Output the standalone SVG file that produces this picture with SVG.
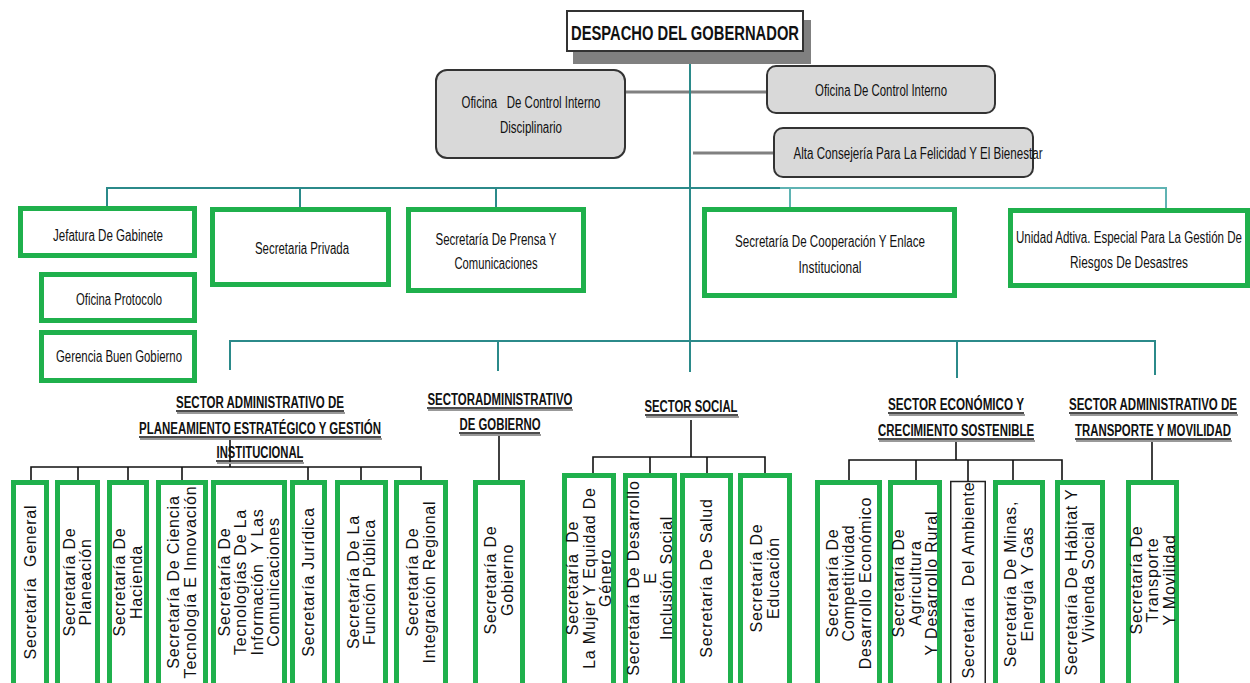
<svg xmlns="http://www.w3.org/2000/svg" width="1250" height="683" viewBox="0 0 1250 683">
<style>
.g{fill:#fff;stroke:#1fb04c;stroke-width:5}
.gr{fill:#d9d9d9;stroke:#333;stroke-width:2}
.t{font-family:"Liberation Sans",Arial,sans-serif;font-size:16px;fill:#111;text-anchor:middle}
.v{font-size:16px;letter-spacing:0.8px}
.h{font-weight:bold;font-size:16px}
.teal{stroke:#2b8a8a;stroke-width:2;fill:none}
.teal2{stroke:#5fb3b3;stroke-width:2;fill:none}
.blk{stroke:#111;stroke-width:1.6;fill:none}
.gry{stroke:#808080;stroke-width:3;fill:none}
.ul{stroke:#111;stroke-width:1.3}
.uls{stroke:#999;stroke-width:2}
</style>
<rect width="1250" height="683" fill="#fff"/>
<g id="connectors">
<line class="gry" x1="625" y1="92" x2="767" y2="92"/>
<line class="gry" x1="693" y1="153" x2="774" y2="153"/>
<path class="teal" d="M107 206V188H780M300 188V207M496 188V207M690 51V372M230 370V341H1155V375M498 341V371M957 341V378"/>
<path class="teal2" d="M780 188H1166V208M790 188V207"/>
<path class="blk" d="M230 438V467M31 480V467H421V480M78 467V480M128 467V480M182 467V480M308 467V480M361 467V480"/>
<path class="blk" d="M499 436V480"/>
<path class="blk" d="M691 420V457M593 473V457H765V473M650 457V473M707 457V473"/>
<path class="blk" d="M956 440V460M849 480V460H1062V484M916 460V480M968 460V481M1013 460V480"/>
<path class="blk" d="M1152 440V480"/>
</g>
<g id="despacho">
<rect x="573" y="20" width="238" height="44" fill="#808080"/>
<rect x="567" y="11" width="236" height="40" fill="#fff" stroke="#333" stroke-width="2"/>
<text class="t" x="685" y="40" style="font-weight:bold;font-size:21px" textLength="228" lengthAdjust="spacingAndGlyphs">DESPACHO DEL GOBERNADOR</text>
</g>
<g id="control-disciplinario">
<rect class="gr" x="436" y="70" width="189" height="88" rx="11"/>
<text class="t" x="531" y="108" textLength="139" lengthAdjust="spacingAndGlyphs" xml:space="preserve">Oficina   De Control Interno</text>
<text class="t" x="531" y="133" textLength="62" lengthAdjust="spacingAndGlyphs">Disciplinario</text>
</g>
<g id="control-interno">
<rect class="gr" x="767" y="66" width="228" height="47" rx="9"/>
<text class="t" x="881" y="96" textLength="132" lengthAdjust="spacingAndGlyphs">Oficina De Control Interno</text>
</g>
<g id="alta-consejeria">
<rect class="gr" x="774" y="128" width="259" height="49" rx="9"/>
<text class="t" x="918" y="159" textLength="249" lengthAdjust="spacingAndGlyphs">Alta Consejería Para La Felicidad Y El Bienestar</text>
</g>
<g id="jefatura">
<rect class="g" x="20.5" y="208.5" width="174" height="47"/>
<text class="t" x="108" y="241" textLength="110" lengthAdjust="spacingAndGlyphs">Jefatura De Gabinete</text>
</g>
<g id="protocolo">
<rect class="g" x="41.5" y="274.5" width="153" height="46"/>
<text class="t" x="119" y="305" textLength="86" lengthAdjust="spacingAndGlyphs">Oficina Protocolo</text>
</g>
<g id="buen-gobierno">
<rect class="g" x="41.5" y="332.5" width="153" height="48"/>
<text class="t" x="119" y="362" textLength="126" lengthAdjust="spacingAndGlyphs">Gerencia Buen Gobierno</text>
</g>
<g id="privada">
<rect class="g" x="212.5" y="209.5" width="176" height="75"/>
<text class="t" x="302" y="254" textLength="94" lengthAdjust="spacingAndGlyphs">Secretaria Privada</text>
</g>
<g id="prensa">
<rect class="g" x="408.5" y="209.5" width="175" height="81"/>
<text class="t" x="496" y="245" textLength="121" lengthAdjust="spacingAndGlyphs">Secretaría De Prensa Y</text>
<text class="t" x="496" y="269" textLength="83" lengthAdjust="spacingAndGlyphs">Comunicaciones</text>
</g>
<g id="cooperacion">
<rect class="g" x="704.5" y="209.5" width="250" height="86"/>
<text class="t" x="830" y="247" textLength="190" lengthAdjust="spacingAndGlyphs">Secretaría De Cooperación Y Enlace</text>
<text class="t" x="830" y="273" textLength="63" lengthAdjust="spacingAndGlyphs">Institucional</text>
</g>
<g id="riesgos">
<rect class="g" x="1010.5" y="210.5" width="237" height="75"/>
<text class="t" x="1129" y="243" textLength="226" lengthAdjust="spacingAndGlyphs">Unidad Adtiva. Especial Para La Gestión De</text>
<text class="t" x="1129" y="268" textLength="118" lengthAdjust="spacingAndGlyphs">Riesgos De Desastres</text>
</g>
<g id="sector-planeamiento">
<line class="uls" x1="177" y1="413" x2="345" y2="413"/><line class="ul" x1="176" y1="411" x2="344" y2="411"/>
<line class="uls" x1="140" y1="439" x2="382" y2="439"/><line class="ul" x1="139" y1="437" x2="381" y2="437"/>
<line class="uls" x1="217" y1="463" x2="304" y2="463"/><line class="ul" x1="216" y1="461" x2="303" y2="461"/>
<text class="t h" x="260" y="408" textLength="168" lengthAdjust="spacingAndGlyphs">SECTOR ADMINISTRATIVO DE</text>
<text class="t h" x="260" y="434" textLength="242" lengthAdjust="spacingAndGlyphs">PLANEAMIENTO ESTRATÉGICO Y GESTIÓN</text>
<text class="t h" x="260" y="458" textLength="87" lengthAdjust="spacingAndGlyphs">INSTITUCIONAL</text>
</g>
<g id="sector-gobierno">
<line class="uls" x1="428" y1="410" x2="573" y2="410"/><line class="ul" x1="427" y1="408" x2="572" y2="408"/>
<line class="uls" x1="460" y1="435" x2="541" y2="435"/><line class="ul" x1="459" y1="433" x2="540" y2="433"/>
<text class="t h" x="500" y="405" textLength="145" lengthAdjust="spacingAndGlyphs">SECTORADMINISTRATIVO</text>
<text class="t h" x="500" y="430" textLength="81" lengthAdjust="spacingAndGlyphs">DE GOBIERNO</text>
</g>
<g id="sector-social">
<line class="uls" x1="646" y1="417" x2="739" y2="417"/><line class="ul" x1="645" y1="415" x2="738" y2="415"/>
<text class="t h" x="691" y="412" textLength="93" lengthAdjust="spacingAndGlyphs">SECTOR SOCIAL</text>
</g>
<g id="sector-economico">
<line class="uls" x1="889" y1="415" x2="1025" y2="415"/><line class="ul" x1="888" y1="413" x2="1024" y2="413"/>
<line class="uls" x1="879" y1="441" x2="1035" y2="441"/><line class="ul" x1="878" y1="439" x2="1034" y2="439"/>
<text class="t h" x="956" y="410" textLength="136" lengthAdjust="spacingAndGlyphs">SECTOR ECONÓMICO Y</text>
<text class="t h" x="956" y="436" textLength="156" lengthAdjust="spacingAndGlyphs">CRECIMIENTO SOSTENIBLE</text>
</g>
<g id="sector-transporte">
<line class="uls" x1="1070" y1="415" x2="1238" y2="415"/><line class="ul" x1="1069" y1="413" x2="1237" y2="413"/>
<line class="uls" x1="1076" y1="441" x2="1232" y2="441"/><line class="ul" x1="1075" y1="439" x2="1231" y2="439"/>
<text class="t h" x="1153" y="410" textLength="168" lengthAdjust="spacingAndGlyphs">SECTOR ADMINISTRATIVO DE</text>
<text class="t h" x="1153" y="436" textLength="156" lengthAdjust="spacingAndGlyphs">TRANSPORTE Y MOVILIDAD</text>
</g>
<g id="sec-general">
<rect class="g" x="13.5" y="482.5" width="33" height="210"/>
<g transform="translate(30,582) rotate(-90)"><text class="t v" x="0" y="5.5" xml:space="preserve">Secretaría  General</text></g>
</g>
<g id="sec-planeacion">
<rect class="g" x="57.5" y="482.5" width="40" height="210"/>
<g transform="translate(77.5,582) rotate(-90)"><text class="t v" x="0" y="-2.75">Secretaría De</text><text class="t v" x="0" y="13.75">Planeación</text></g>
</g>
<g id="sec-hacienda">
<rect class="g" x="109.5" y="482.5" width="37" height="210"/>
<g transform="translate(128,582) rotate(-90)"><text class="t v" x="0" y="-2.75">Secretaría De</text><text class="t v" x="0" y="13.75">Hacienda</text></g>
</g>
<g id="sec-ciencia">
<rect class="g" x="158.5" y="482.5" width="47" height="210"/>
<g transform="translate(182,582) rotate(-90)"><text class="t v" x="0" y="-2.75">Secretaría De Ciencia</text><text class="t v" x="0" y="13.75">Tecnología E Innovación</text></g>
</g>
<g id="sec-tic">
<rect class="g" x="213.5" y="482.5" width="71" height="210"/>
<g transform="translate(249,582) rotate(-90)"><text class="t v" x="0" y="-19.25">Secretaría De</text><text class="t v" x="0" y="-2.75">Tecnologías De La</text><text class="t v" x="0" y="13.75" xml:space="preserve">Información  Y Las</text><text class="t v" x="0" y="30.25">Comunicaciones</text></g>
</g>
<g id="sec-juridica">
<rect class="g" x="292.5" y="482.5" width="32" height="210"/>
<g transform="translate(308.5,582) rotate(-90)"><text class="t v" x="0" y="5.5">Secretaría Jurídica</text></g>
</g>
<g id="sec-funcion-publica">
<rect class="g" x="337.5" y="482.5" width="48" height="210"/>
<g transform="translate(361.5,582) rotate(-90)"><text class="t v" x="0" y="-2.75">Secretaría De La</text><text class="t v" x="0" y="13.75">Función Pública</text></g>
</g>
<g id="sec-integracion">
<rect class="g" x="396.5" y="482.5" width="49" height="210"/>
<g transform="translate(421,582) rotate(-90)"><text class="t v" x="0" y="-2.75">Secretaría De</text><text class="t v" x="0" y="13.75">Integración Regional</text></g>
</g>
<g id="sec-gobierno">
<rect class="g" x="475.5" y="482.5" width="47" height="210"/>
<g transform="translate(499,580) rotate(-90)"><text class="t v" x="0" y="-2.75">Secretaría De</text><text class="t v" x="0" y="13.75">Gobierno</text></g>
</g>
<g id="sec-mujer">
<rect class="g" x="564.5" y="475.5" width="49" height="217"/>
<g transform="translate(589,578) rotate(-90)"><text class="t v" x="0" y="-11" xml:space="preserve">Secretaría  De</text><text class="t v" x="0" y="5.5">La Mujer Y Equidad De</text><text class="t v" x="0" y="22">Género</text></g>
</g>
<g id="sec-inclusion">
<rect class="g" x="625.5" y="475.5" width="49" height="217"/>
<g transform="translate(650,578) rotate(-90)"><text class="t v" x="0" y="-11">Secretaría De Desarrollo</text><text class="t v" x="0" y="5.5">E</text><text class="t v" x="0" y="22">Inclusión Social</text></g>
</g>
<g id="sec-salud">
<rect class="g" x="682.5" y="475.5" width="48" height="217"/>
<g transform="translate(706.5,578) rotate(-90)"><text class="t v" x="0" y="5.5">Secretaría De Salud</text></g>
</g>
<g id="sec-educacion">
<rect class="g" x="740.5" y="475.5" width="49" height="217"/>
<g transform="translate(765,578) rotate(-90)"><text class="t v" x="0" y="-2.75">Secretaría De</text><text class="t v" x="0" y="13.75">Educación</text></g>
</g>
<g id="sec-competitividad">
<rect class="g" x="817.5" y="482.5" width="62" height="210"/>
<g transform="translate(848.5,583) rotate(-90)"><text class="t v" x="0" y="-11">Secretaría De</text><text class="t v" x="0" y="5.5">Competitividad</text><text class="t v" x="0" y="22">Desarrollo Económico</text></g>
</g>
<g id="sec-agricultura">
<rect class="g" x="890.5" y="482.5" width="49" height="210"/>
<g transform="translate(915,583) rotate(-90)"><text class="t v" x="0" y="-11">Secretaría De</text><text class="t v" x="0" y="5.5">Agricultura</text><text class="t v" x="0" y="22">Y Desarrollo Rural</text></g>
</g>
<g id="sec-ambiente">
<rect x="950.75" y="481.5" width="34.5" height="210" fill="#fff" stroke="#222" stroke-width="1.5"/>
<g transform="translate(968,580) rotate(-90)"><text class="t v" x="0" y="5.5" xml:space="preserve">Secretaría  Del Ambiente</text></g>
</g>
<g id="sec-minas">
<rect class="g" x="995.5" y="482.5" width="47" height="210"/>
<g transform="translate(1019,584) rotate(-90)"><text class="t v" x="0" y="-2.75">Secretaría De Minas,</text><text class="t v" x="0" y="13.75">Energía Y Gas</text></g>
</g>
<g id="sec-habitat">
<rect class="g" x="1057.5" y="482.5" width="45" height="210"/>
<g transform="translate(1080,582) rotate(-90)"><text class="t v" x="0" y="-2.75">Secretaría De Hábitat Y</text><text class="t v" x="0" y="13.75">Vivienda Social</text></g>
</g>
<g id="sec-transporte">
<rect class="g" x="1128.5" y="482.5" width="48" height="210"/>
<g transform="translate(1152.5,580) rotate(-90)"><text class="t v" x="0" y="-11">Secretaría De</text><text class="t v" x="0" y="5.5">Transporte</text><text class="t v" x="0" y="22">Y Movilidad</text></g>
</g>
</svg>
